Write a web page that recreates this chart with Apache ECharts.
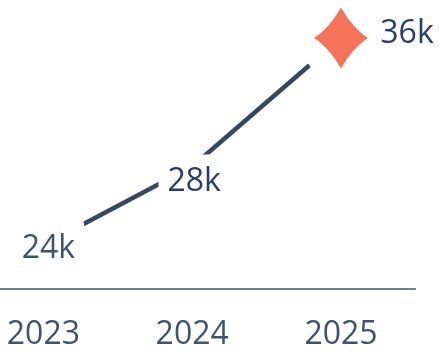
<!DOCTYPE html>
<html>
<head>
<meta charset="utf-8">
<script src="https://cdn.jsdelivr.net/npm/echarts@6/dist/echarts.min.js"></script>
<style>
html,body{margin:0;padding:0;background:#fff;overflow:hidden;}
#wrap{position:relative;width:439px;height:351px;overflow:hidden;}
#chart{position:absolute;left:-31px;top:0;width:470px;height:351px;}
</style>
</head>
<body>
<div id="wrap"><div id="chart"></div></div>
<script>
var categories = ['2023', '2024', '2025'];
var values = [24000, 28000, 36000];
var valueLabels = ['24k', '28k', '36k'];

var FONT = 'Open Sans';
var lineColor = '#34495e';
var mutedText = '#3f546b';
var navyText = '#263d6e';
var starColor = '#f4735a';
var starPath = 'path://M0,-30 C7,-18 16,-7 27,0 C16,7 7,18 0,30 C-7,18 -16,7 -27,0 C-16,-7 -7,-18 0,-30 Z';

var last = values.length - 1;

var labelBase = {
  show: true,
  fontFamily: FONT,
  fontSize: 32,
  backgroundColor: '#fff',
  padding: [11, 9],
  formatter: function (p) { return valueLabels[p.dataIndex]; }
};

var lineData = values.map(function (v, i) {
  return {
    value: v,
    symbol: 'circle',
    symbolSize: 0,
    label: i === last ? { show: false } : Object.assign({}, labelBase, {
      position: 'inside',
      offset: i === 0 ? [5, 4] : [2, 15],
      color: i === 0 ? mutedText : navyText
    })
  };
});

var lastOnly = values.map(function (v, i) { return i === last ? v : '-'; });

var chart = echarts.init(document.getElementById('chart'), null, { renderer: 'canvas' });
chart.setOption({
  animation: false,
  backgroundColor: '#fff',
  grid: { left: 0, right: 23.6, top: 0, bottom: 60.5, containLabel: false },
  xAxis: {
    type: 'category',
    data: categories,
    boundaryGap: true,
    axisLine: { show: true, lineStyle: { color: '#3f546b', width: 1.5 } },
    axisTick: { show: false },
    axisLabel: { fontFamily: FONT, fontSize: 32, color: mutedText, margin: 30 },
    splitLine: { show: false }
  },
  yAxis: {
    type: 'log',
    min: 22030,
    max: 38780,
    show: false,
    splitLine: { show: false }
  },
  series: [{
    type: 'line',
    data: lineData,
    lineStyle: { color: lineColor, width: 4.5 },
    itemStyle: { color: lineColor },
    z: 2
  }, {
    type: 'scatter',
    data: lastOnly,
    symbol: 'circle',
    symbolSize: 84,
    itemStyle: { color: '#fff', opacity: 1 },
    silent: true,
    z: 3
  }, {
    type: 'scatter',
    data: lastOnly,
    symbol: starPath,
    symbolSize: [54, 61],
    itemStyle: { color: starColor, opacity: 1 },
    label: Object.assign({}, labelBase, { position: 'inside', offset: [66, -4], color: navyText, opacity: 1 }),
    z: 4
  }]
});
</script>
</body>
</html>
